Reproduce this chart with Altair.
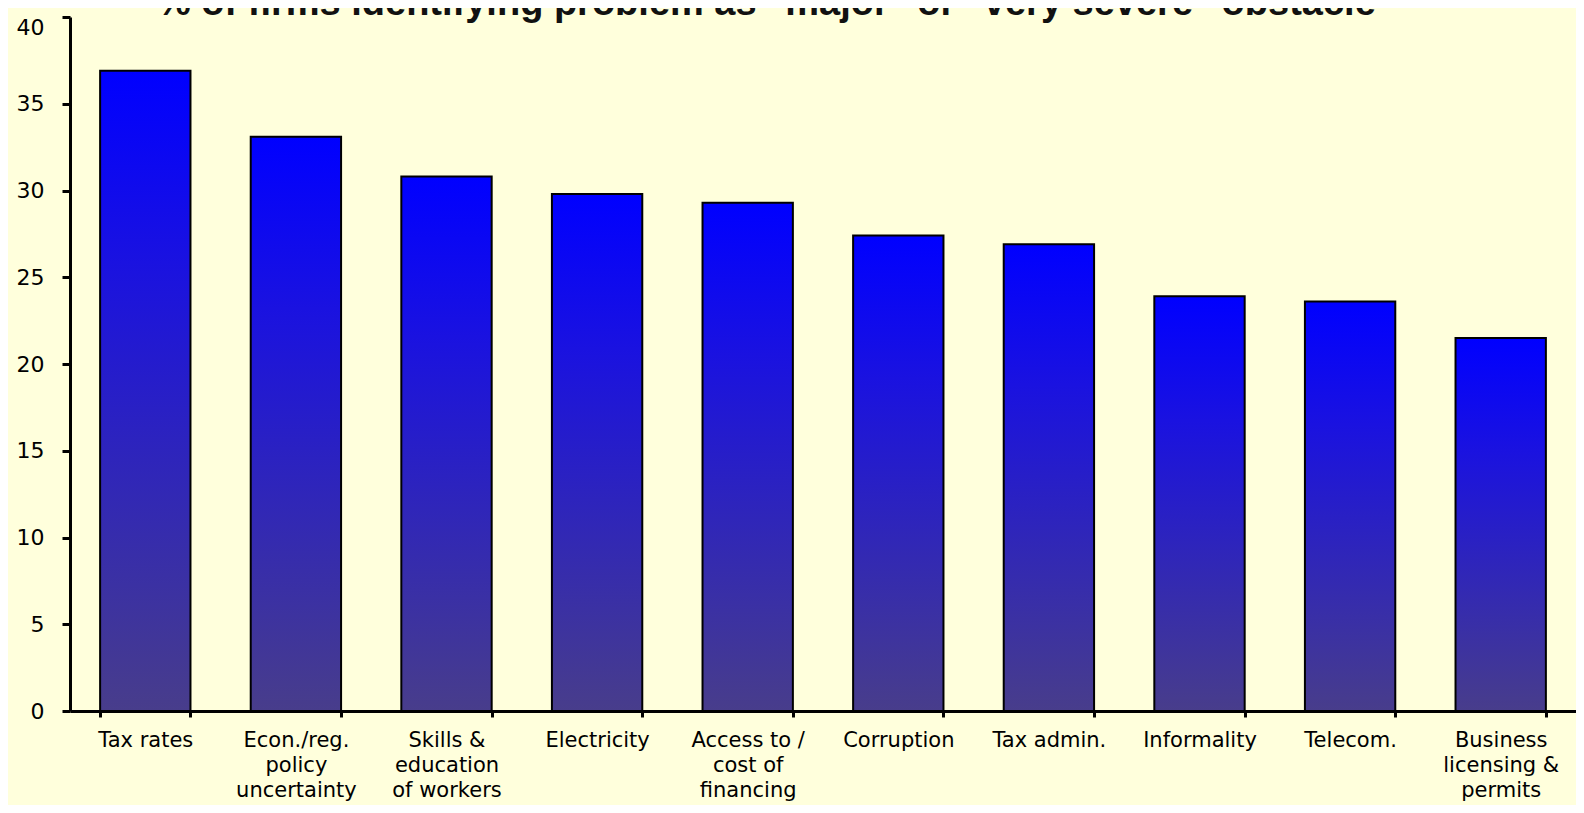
import altair as alt
import pandas as pd

categories = [
    "Tax rates",
    "Econ./reg.|policy|uncertainty",
    "Skills &|education|of workers",
    "Electricity",
    "Access to /|cost of|financing",
    "Corruption",
    "Tax admin.",
    "Informality",
    "Telecom.",
    "Business|licensing &|permits",
]
values = [36.9, 33.1, 30.8, 29.8, 29.3, 27.4, 26.9, 23.9, 23.6, 21.5]
y_ticks = [0, 5, 10, 15, 20, 25, 30, 35, 40]
title_text = '% of firms identifying problem as "major" or "very severe" obstacle'

df = pd.DataFrame({"cat": categories, "val": values})

gradient = alt.LinearGradient(
    gradient="linear",
    x1=0, y1=0, x2=0, y2=1,
    stops=[
        alt.GradientStop(color="#0000ff", offset=0),
        alt.GradientStop(color="#1a12e0", offset=0.3),
        alt.GradientStop(color="#483d8b", offset=1),
    ],
)

bars = (
    alt.Chart(df)
    .mark_bar(color=gradient, stroke="#000000", strokeWidth=2)
    .encode(
        x=alt.X(
            "cat:N",
            sort=categories,
            scale=alt.Scale(paddingInner=0.4, paddingOuter=0.2),
            axis=alt.Axis(
                title=None,
                labelAngle=0,
                labelExpr="split(datum.label, '|')",
                labelFont="DejaVu Sans",
                labelFontSize=21,
                labelColor="#000000",
                labelLineHeight=25,
                labelBaseline="top",
                labelPadding=12,
                tickBand="extent",
                tickSize=6,
                tickWidth=3,
                tickColor="#000000",
                domainColor="#000000",
                domainWidth=3,
                labelLimit=300,
            ),
        ),
        y=alt.Y(
            "val:Q",
            scale=alt.Scale(domain=[0, 40], nice=False),
            axis=alt.Axis(
                title=None,
                values=y_ticks,
                grid=False,
                labelFont="DejaVu Sans",
                labelFontSize=22,
                labelColor="#000000",
                labelPadding=18,
                labelBaseline=alt.condition(
                    "datum.value == 40", alt.value("top"), alt.value("middle")
                ),
                tickSize=8,
                tickWidth=3,
                tickColor="#000000",
                domainColor="#000000",
                domainWidth=3,
            ),
        ),
    )
)

title = (
    alt.Chart(alt.Data(values=[{"t": title_text}]))
    .mark_text(
        font="Liberation Sans",
        fontSize=38,
        fontWeight="bold",
        color="#111111",
        align="left",
        baseline="alphabetic",
    )
    .encode(text="t:N", x=alt.value(87), y=alt.value(-2))
)

chart = (
    alt.layer(bars, title)
    .properties(
        width=1506,
        height=694,
        autosize=alt.AutoSizeParams(type="none"),
        padding={"left": 62, "top": 9, "right": 0, "bottom": 94},
        background="#ffffdc",
    )
    .configure_view(stroke=None)
)

chart.save("out.html", embed_options={"renderer": "svg", "actions": False})
